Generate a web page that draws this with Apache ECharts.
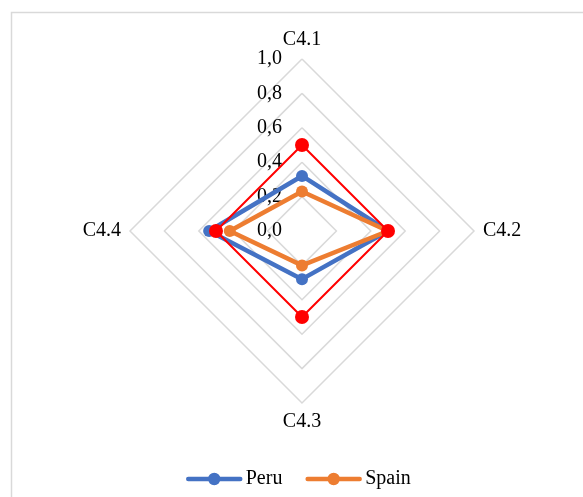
<!DOCTYPE html>
<html>
<head>
<meta charset="utf-8">
<script src="https://cdn.jsdelivr.net/npm/echarts@6/dist/echarts.min.js"></script>
<style>
  html, body { margin: 0; padding: 0; background: #fff; }
  #chart { width: 583px; height: 497px; }
</style>
</head>
<body>
<div id="chart"></div>
<script>
// Criteria on the radar, listed clockwise from the top
const categories = ['C4.1', 'C4.2', 'C4.3', 'C4.4'];
const peru = [0.32, 0.50, 0.28, 0.54];
const spain = [0.23, 0.50, 0.20, 0.42];
const benchmark = [0.50, 0.50, 0.50, 0.50];
const tickLabels = ['0,0', '0,2', '0,4', '0,6', '0,8', '1,0'];
const axisMax = 1.0;

const FONT = 'Liberation Serif';

// ECharts lays radar indicators out counter-clockwise, so reorder to run clockwise
const order = [0, 3, 2, 1];
const reorder = arr => order.map(i => arr[i]);

// Legend glyph: a thick line with a dot in the middle
const legendGlyph = 'path://M2,4H54A2.25,2.25 0 0 1 54,8.5H2A2.25,2.25 0 0 1 2,4Z' +
  'M34.25,6.25A6.25,6.25 0 1 1 21.75,6.25A6.25,6.25 0 1 1 34.25,6.25Z';

const chart = echarts.init(document.getElementById('chart'), null, { renderer: 'canvas' });

chart.setOption({
  backgroundColor: '#fff',
  animation: false,
  graphic: [{
    type: 'rect',
    shape: { x: 11.5, y: 12.5, width: 700, height: 700 },
    style: { fill: 'none', stroke: '#d9d9d9', lineWidth: 1.5 },
    silent: true
  }],
  legend: {
    data: [
      { name: 'Peru', icon: legendGlyph },
      { name: 'Spain', icon: legendGlyph }
    ],
    left: 181,
    top: 464,
    itemWidth: 57,
    itemHeight: 12.5,
    itemGap: 23,
    textStyle: { fontFamily: FONT, fontSize: 20, color: '#000', padding: [0, 0, 0, -2] }
  },
  radar: {
    center: [302, 231],
    radius: 172,
    startAngle: 90,
    shape: 'polygon',
    splitNumber: 5,
    indicator: reorder(categories).map(name => ({ name, min: 0, max: axisMax })),
    axisName: { color: '#000', fontFamily: FONT, fontSize: 20 },
    nameGap: 9,
    axisLine: { show: false },
    axisTick: { show: false },
    splitArea: { show: false },
    splitLine: { lineStyle: { color: '#d9d9d9', width: 1.5 } }
  },
  // Value scale printed along the upper spoke
  grid: { left: 302, top: 59, width: 1, height: 172 },
  xAxis: { type: 'value', show: false },
  yAxis: {
    type: 'value',
    min: 0,
    max: axisMax,
    interval: 0.2,
    axisLine: { show: false },
    axisTick: { show: false },
    splitLine: { show: false },
    axisLabel: {
      margin: 20,
      color: '#000',
      fontFamily: FONT,
      fontSize: 20,
      formatter: v => tickLabels[Math.round(v / 0.2)]
    }
  },
  series: [{
    type: 'radar',
    z: 2,
    symbol: 'circle',
    data: [
      {
        name: 'Peru',
        value: reorder(peru),
        symbolSize: 12,
        itemStyle: { color: '#4472C4' },
        lineStyle: { color: '#4472C4', width: 4.5 }
      },
      {
        name: 'Spain',
        value: reorder(spain),
        symbolSize: 12,
        itemStyle: { color: '#ED7D31' },
        lineStyle: { color: '#ED7D31', width: 4.5 }
      },
      {
        name: 'Benchmark',
        value: reorder(benchmark),
        symbolSize: 14,
        itemStyle: { color: '#FF0000' },
        lineStyle: { color: '#FF0000', width: 2 }
      }
    ]
  }]
});
</script>
</body>
</html>
